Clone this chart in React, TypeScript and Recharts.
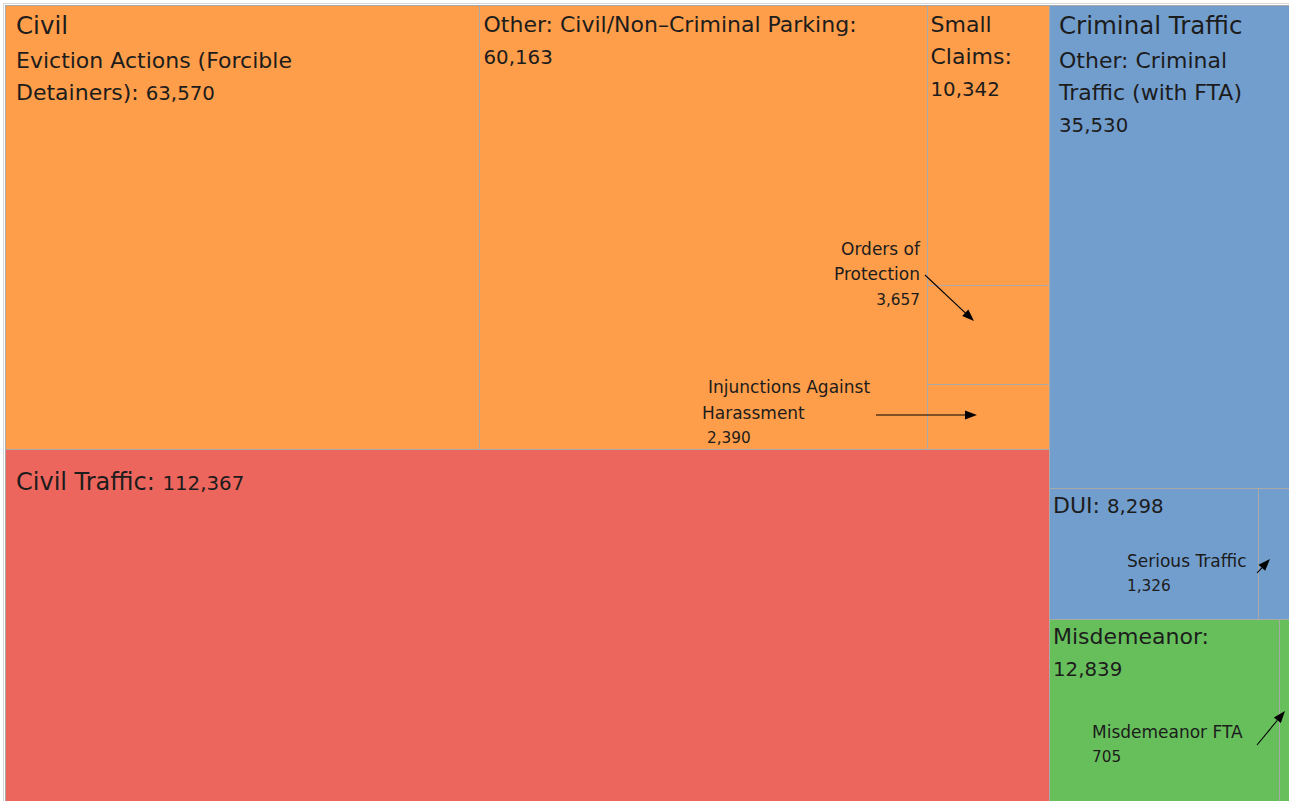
import React from 'react';
import { Treemap } from 'recharts';

// ---------- data ----------
const categories = ['Civil', 'Civil Traffic', 'Criminal Traffic', 'Misdemeanor'];

const civilNames = [
  'Eviction Actions (Forcible Detainers)',
  'Other: Civil/Non–Criminal Parking',
  'Small Claims',
  'Orders of Protection',
  'Injunctions Against Harassment',
];
const civilValues = [63570, 60163, 10342, 3657, 2390];

const civilTrafficValue = 112367;

const criminalTrafficNames = ['Other: Criminal Traffic (with FTA)', 'DUI', 'Serious Traffic'];
const criminalTrafficValues = [35530, 8298, 1326];

const misdemeanorNames = ['Misdemeanor', 'Misdemeanor FTA'];
const misdemeanorValues = [12839, 705];

// ---------- styles ----------
const COLORS: Record<string, string> = {
  Civil: '#FF9E4A',
  'Civil Traffic': '#ED665D',
  'Criminal Traffic': '#729ECE',
  Misdemeanor: '#67BF5C',
};
const FONT = '"DejaVu Sans", sans-serif';
const INK = '#1c1c1c';
const BORDER = '#a9a9a9';

const treeData = [
  {
    name: categories[0],
    children: civilNames.map((n, i) => ({ name: n, size: civilValues[i], category: categories[0] })),
  },
  { name: categories[1], size: civilTrafficValue, category: categories[1] },
  {
    name: categories[2],
    children: criminalTrafficNames.map((n, i) => ({
      name: n,
      size: criminalTrafficValues[i],
      category: categories[2],
    })),
  },
  {
    name: categories[3],
    children: misdemeanorNames.map((n, i) => ({
      name: n,
      size: misdemeanorValues[i],
      category: categories[3],
    })),
  },
];

const fmt = (n: number) => n.toLocaleString('en-US');

const Arrow = ({ x1, y1, x2, y2 }: { x1: number; y1: number; x2: number; y2: number }) => {
  const a = Math.atan2(y2 - y1, x2 - x1);
  const L = 12;
  const W = 4.5;
  const c = Math.cos(a);
  const s = Math.sin(a);
  const bx = x2 - L * c;
  const by = y2 - L * s;
  const pts = `${x2},${y2} ${bx - W * s},${by + W * c} ${bx + W * s},${by - W * c}`;
  return (
    <g>
      <line x1={x1} y1={y1} x2={bx} y2={by} stroke="#000" strokeWidth={1.1} />
      <polygon points={pts} fill="#000" />
    </g>
  );
};

const T = (props: any) => (
  <text fontFamily={FONT} fill={INK} fontSize={22} {...props} />
);
const N = ({ children, size = 19.8 }: any) => <tspan fontSize={size}>{children}</tspan>;

const renderLabel = (name: string, cat: string, v: number, x: number, y: number) => {
  switch (name) {
    case civilNames[0]:
      return (
        <g>
          <T x={x + 11} y={y + 29} fontSize={24.5}>{cat}</T>
          <T x={x + 11} y={y + 63}>Eviction Actions (Forcible</T>
          <T x={x + 11} y={y + 95}>
            Detainers): <N>{fmt(v)}</N>
          </T>
        </g>
      );
    case civilNames[1]:
      return (
        <g>
          <T x={x + 4.5} y={y + 27}>Other: Civil/Non–Criminal Parking:</T>
          <T x={x + 4.5} y={y + 59}>
            <N>{fmt(v)}</N>
          </T>
        </g>
      );
    case civilNames[2]:
      return (
        <g>
          <T x={x + 3.5} y={y + 27}>Small</T>
          <T x={x + 3.5} y={y + 59}>Claims:</T>
          <T x={x + 3.5} y={y + 91}>
            <N>{fmt(v)}</N>
          </T>
        </g>
      );
    case civilNames[3]:
      return (
        <g>
          <T x={x - 7} y={y - 30} fontSize={17} textAnchor="end">Orders of</T>
          <T x={x - 7} y={y - 5} fontSize={17} textAnchor="end">Protection</T>
          <T x={x - 7} y={y + 20} fontSize={17} textAnchor="end">
            <N size={15.3}>{fmt(v)}</N>
          </T>
          <Arrow x1={x - 2} y1={y - 10} x2={x + 47} y2={y + 36} />
        </g>
      );
    case civilNames[4]:
      return (
        <g>
          <T x={x - 219} y={y + 9} fontSize={17}>Injunctions Against</T>
          <T x={x - 225} y={y + 35} fontSize={17}>Harassment</T>
          <T x={x - 220} y={y + 59} fontSize={17}>
            <N size={15.3}>{fmt(v)}</N>
          </T>
          <Arrow x1={x - 51} y1={y + 31} x2={x + 50} y2={y + 31} />
        </g>
      );
    case categories[1]:
      return (
        <T x={x + 11} y={y + 41} fontSize={24}>
          Civil Traffic: <N>{fmt(v)}</N>
        </T>
      );
    case criminalTrafficNames[0]:
      return (
        <g>
          <T x={x + 10} y={y + 29} fontSize={24.5}>{cat}</T>
          <T x={x + 10} y={y + 63}>Other: Criminal</T>
          <T x={x + 10} y={y + 95}>Traffic (with FTA)</T>
          <T x={x + 10} y={y + 127}>
            <N>{fmt(v)}</N>
          </T>
        </g>
      );
    case criminalTrafficNames[1]:
      return (
        <T x={x + 4} y={y + 25}>
          DUI: <N>{fmt(v)}</N>
        </T>
      );
    case criminalTrafficNames[2]:
      return (
        <g>
          <T x={x - 131} y={y + 79} fontSize={17}>Serious Traffic</T>
          <T x={x - 131} y={y + 103} fontSize={17}>
            <N size={15.3}>{fmt(v)}</N>
          </T>
          <Arrow x1={x - 1} y1={y + 85} x2={x + 12} y2={y + 71} />
        </g>
      );
    case misdemeanorNames[0]:
      return (
        <g>
          <T x={x + 4} y={y + 25}>Misdemeanor:</T>
          <T x={x + 4} y={y + 57}>
            <N>{fmt(v)}</N>
          </T>
        </g>
      );
    case misdemeanorNames[1]:
      return (
        <g>
          <T x={x - 187} y={y + 119} fontSize={17}>Misdemeanor FTA</T>
          <T x={x - 187} y={y + 143} fontSize={17}>
            <N size={15.3}>{fmt(v)}</N>
          </T>
          <Arrow x1={x - 22} y1={y + 126} x2={x + 6} y2={y + 92} />
        </g>
      );
    default:
      return null;
  }
};

const renderNode = (props: any) => {
  const { x, y, width, height, name, children, category, size } = props;
  if ((children && children.length) || !category) return <g />;
  const x0 = Math.round(x);
  const y0 = Math.round(y);
  const x1 = Math.round(x + width);
  const y1 = Math.round(y + height);
  return (
    <g>
      <rect
        x={x0 + 0.5}
        y={y0 + 0.5}
        width={x1 - x0}
        height={y1 - y0}
        fill={COLORS[category]}
        stroke={BORDER}
        strokeWidth={1}
      />
      {renderLabel(name, category, size, x, y)}
    </g>
  );
};

export default function App() {
  return (
    <div>
      <div
        style={{
          position: 'absolute',
          left: 3,
          top: 3,
          width: 1286,
          height: 798,
          borderLeft: '1px solid #d6d6d6',
          borderTop: '1px solid #d6d6d6',
          boxSizing: 'border-box',
        }}
      />
      <div
        style={{
          position: 'absolute',
          left: 5,
          top: 5,
          width: 1284,
          height: 796,
          overflow: 'hidden',
        }}
      >
        <Treemap
          width={1287}
          height={799}
          data={treeData}
          dataKey="size"
          nameKey="name"
          isAnimationActive={false}
          content={renderNode}
        />
      </div>
    </div>
  );
}
